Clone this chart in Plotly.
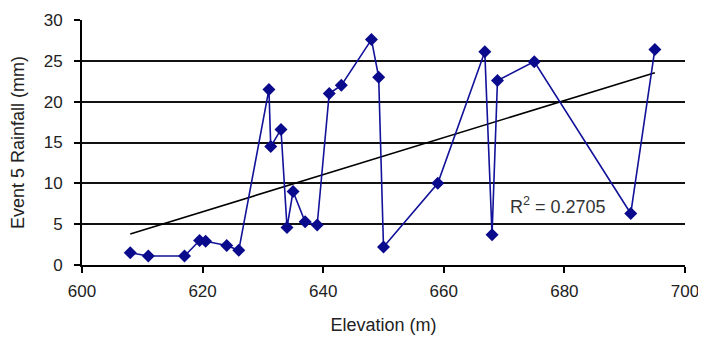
import numpy as np
import plotly.graph_objects as go

# elevation (m) and event 5 rainfall (mm)
elevation = [608, 611, 617, 619.5, 620.5, 624, 626, 631, 631.3, 633, 634,
             635, 637, 639, 641, 643, 648, 649.2, 650, 659, 666.8, 668, 668.9,
             675, 691, 695]
rainfall = [1.5, 1.1, 1.1, 3.0, 2.9, 2.4, 1.8, 21.5, 14.5, 16.6, 4.6,
            9.0, 5.3, 4.9, 21.0, 22.0, 27.6, 23.0, 2.2, 10.0, 26.1, 3.7, 22.6,
            24.9, 6.3, 26.4]
x_ticks = [600, 620, 640, 660, 680, 700]
y_ticks = [0, 5, 10, 15, 20, 25, 30]
r2_text = 'R<sup>2</sup> = 0.2705'

FONT = 'Liberation Sans, Arial, sans-serif'
TXT = '#222'

# linear trendline fitted to the same points
slope, icpt = np.polyfit(elevation, rainfall, 1)
trend_x = [min(elevation), max(elevation)]
trend_y = [slope * v + icpt for v in trend_x]

fig = go.Figure()
fig.add_trace(
    go.Scatter(
        x=trend_x,
        y=trend_y,
        mode='lines',
        line=dict(color='black', width=1.6),
        showlegend=False,
        )
    )
fig.add_trace(
    go.Scatter(
        x=elevation,
        y=rainfall,
        mode='lines+markers',
        line=dict(color='#12129a', width=1.6),
        marker=dict(symbol='diamond', size=10, color='#0a0a8c'),
        showlegend=False,
        )
    )
fig.add_annotation(
    x=679, y=7.3, text=r2_text, showarrow=False,
    font=dict(family=FONT, size=18, color='#333'),
    )

fig.update_xaxes(
    range=[600, 700], tickvals=x_ticks, ticks='outside', ticklen=6,
    tickcolor='black', tickwidth=1.5,
    showline=True, linecolor='black', linewidth=1.8,
    showgrid=False, zeroline=False,
    ticklabelstandoff=4,
    title_text='Elevation (m)', title_standoff=18,
    title_font=dict(family=FONT, size=18, color=TXT),
    tickfont=dict(family=FONT, size=17, color=TXT),
    )
fig.update_yaxes(
    range=[0, 30], tickvals=y_ticks, ticks='outside', ticklen=6,
    tickcolor='black', tickwidth=1.5,
    showline=True, linecolor='black', linewidth=1.8,
    showgrid=True, gridcolor='#111', gridwidth=1.9, zeroline=False,
    ticklabelstandoff=8,
    title_text='Event 5 Rainfall (mm)', title_standoff=16,
    title_font=dict(family=FONT, size=18, color=TXT),
    tickfont=dict(family=FONT, size=17, color=TXT),
    )
# page adds an 8px body margin, so the figure is sized to fit the window
fig.update_layout(
    width=698, height=331,
    margin=dict(l=74, r=21, t=12, b=74, autoexpand=False),
    paper_bgcolor='white', plot_bgcolor='white',
    )

fig.write_html('out.html')
